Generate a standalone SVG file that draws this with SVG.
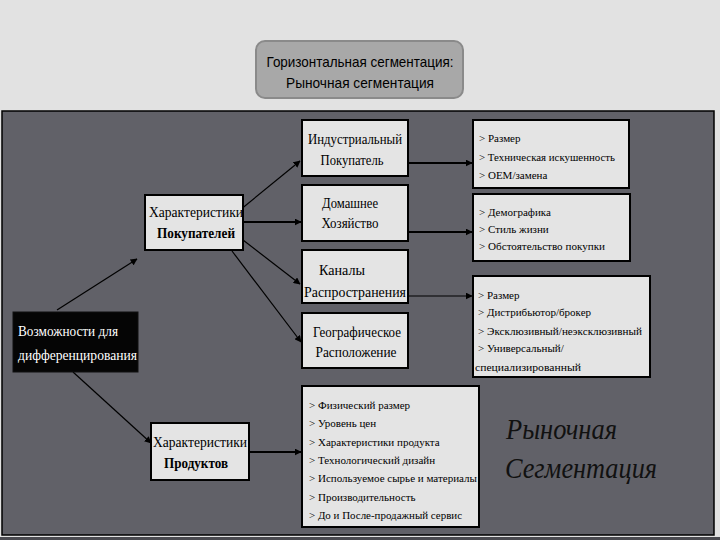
<svg xmlns="http://www.w3.org/2000/svg" width="720" height="540" viewBox="0 0 720 540">
<defs>
<marker id="ah" viewBox="0 0 10 10" refX="9" refY="5" markerWidth="7" markerHeight="7" markerUnits="userSpaceOnUse" orient="auto">
<path d="M0,0 L10,5 L0,10 Z" fill="#000"/>
</marker>
<style>
.node{fill:#e4e4e4;stroke:#000;stroke-width:2}
.nt{font-family:"Liberation Serif","DejaVu Serif",serif;font-size:15px;fill:#000;text-anchor:middle}
.b{font-weight:bold}
.lt{font-family:"Liberation Serif","DejaVu Serif",serif;font-size:11px;fill:#000}
.c{fill:none;stroke:#000;stroke-width:1.2;marker-end:url(#ah)}
.ch{fill:none;stroke:#000;stroke-width:2;marker-end:url(#ah)}
</style>
</defs>
<rect x="0" y="0" width="720" height="540" fill="#e2e2e2"/>
<rect x="2" y="111" width="712" height="424" fill="#616168" stroke="#000" stroke-width="1.5"/>
<rect x="0" y="537" width="720" height="3" fill="#4a4a50"/>

<g id="title">
<rect x="256" y="41" width="207" height="57" rx="9" fill="#a8a8a8" stroke="#8a8a8a" stroke-width="2"/>
<text x="360" y="67" font-family="'Liberation Sans',Arial,sans-serif" font-size="15" text-anchor="middle" textLength="187" lengthAdjust="spacingAndGlyphs">Горизонтальная сегментация:</text>
<text x="360" y="88" font-family="'Liberation Sans',Arial,sans-serif" font-size="15" text-anchor="middle" textLength="148" lengthAdjust="spacingAndGlyphs">Рыночная сегментация</text>
</g>

<g id="connectors">
<line class="c" x1="57" y1="310" x2="137" y2="259"/>
<line class="c" x1="73" y1="372" x2="151" y2="443"/>
<line class="c" x1="240" y1="210" x2="300" y2="161"/>
<line class="ch" x1="243" y1="222" x2="301" y2="222"/>
<line class="c" x1="243" y1="240" x2="300" y2="284"/>
<line class="c" x1="232" y1="251" x2="301" y2="342"/>
<line class="ch" x1="408" y1="163" x2="472" y2="163"/>
<line class="ch" x1="408" y1="232" x2="472" y2="232"/>
<line class="c" x1="408" y1="296" x2="472" y2="296"/>
<line class="ch" x1="249" y1="452" x2="301" y2="452"/>
</g>

<g id="opportunities">
<rect x="13" y="312" width="125" height="60" fill="#050505" stroke="#111" stroke-width="1"/>
<text x="18" y="336" font-family="'Liberation Serif','DejaVu Serif',serif" font-size="15" fill="#fff" textLength="100" lengthAdjust="spacingAndGlyphs">Возможности для</text>
<text x="18" y="360" font-family="'Liberation Serif','DejaVu Serif',serif" font-size="15" fill="#fff" textLength="119" lengthAdjust="spacingAndGlyphs">дифференцирования</text>
</g>

<g id="buyers">
<rect class="node" x="145" y="195" width="98" height="55"/>
<text class="nt" x="196" y="217" textLength="94" lengthAdjust="spacingAndGlyphs">Характеристики</text>
<text class="nt b" x="196" y="238" textLength="78" lengthAdjust="spacingAndGlyphs">Покупателей</text>
</g>

<g id="products">
<rect class="node" x="151" y="423" width="98" height="57"/>
<text class="nt" x="200" y="447" textLength="94" lengthAdjust="spacingAndGlyphs">Характеристики</text>
<text class="nt b" x="196" y="468" textLength="64" lengthAdjust="spacingAndGlyphs">Продуктов</text>
</g>

<g id="industrial">
<rect class="node" x="302" y="120" width="106" height="56"/>
<text class="nt" x="355" y="144" textLength="94" lengthAdjust="spacingAndGlyphs">Индустриальный</text>
<text class="nt" x="352" y="165" textLength="63" lengthAdjust="spacingAndGlyphs">Покупатель</text>
</g>

<g id="household">
<rect class="node" x="302" y="185" width="106" height="56"/>
<text class="nt" x="350" y="208" textLength="56" lengthAdjust="spacingAndGlyphs">Домашнее</text>
<text class="nt" x="350" y="228" textLength="57" lengthAdjust="spacingAndGlyphs">Хозяйство</text>
</g>

<g id="channels">
<rect class="node" x="302" y="250" width="106" height="53"/>
<text class="nt" x="342" y="275" textLength="46" lengthAdjust="spacingAndGlyphs">Каналы</text>
<text class="nt" x="355" y="297" textLength="102" lengthAdjust="spacingAndGlyphs">Распространения</text>
</g>

<g id="geo">
<rect class="node" x="302" y="313" width="106" height="55"/>
<text class="nt" x="357" y="337" textLength="88" lengthAdjust="spacingAndGlyphs">Географическое</text>
<text class="nt" x="356" y="357" textLength="81" lengthAdjust="spacingAndGlyphs">Расположение</text>
</g>

<g id="list-industrial">
<rect class="node" x="473" y="120" width="156" height="68"/>
<text class="lt" x="479" y="142">&gt; Размер</text>
<text class="lt" x="479" y="161" textLength="136" lengthAdjust="spacingAndGlyphs">&gt; Техническая искушенность</text>
<text class="lt" x="479" y="179">&gt; OEM/замена</text>
</g>

<g id="list-household">
<rect class="node" x="473" y="194" width="157" height="67"/>
<text class="lt" x="479" y="216">&gt; Демографика</text>
<text class="lt" x="479" y="233">&gt; Стиль жизни</text>
<text class="lt" x="479" y="250" textLength="126" lengthAdjust="spacingAndGlyphs">&gt; Обстоятельство покупки</text>
</g>

<g id="list-channels">
<rect class="node" x="473" y="276" width="177" height="101"/>
<text class="lt" x="478" y="299">&gt; Размер</text>
<text class="lt" x="478" y="316">&gt; Дистрибьютор/брокер</text>
<text class="lt" x="478" y="335" textLength="164" lengthAdjust="spacingAndGlyphs">&gt; Эксклюзивный/неэксклюзивный</text>
<text class="lt" x="478" y="352">&gt; Универсальный/</text>
<text class="lt" x="475" y="371" textLength="106" lengthAdjust="spacingAndGlyphs">специализированный</text>
</g>

<g id="list-products">
<rect class="node" x="302" y="386" width="177" height="141"/>
<text class="lt" x="309" y="409">&gt; Физический размер</text>
<text class="lt" x="309" y="427">&gt; Уровень цен</text>
<text class="lt" x="309" y="446">&gt; Характеристики продукта</text>
<text class="lt" x="309" y="464">&gt; Технологический дизайн</text>
<text class="lt" x="309" y="482" textLength="168" lengthAdjust="spacingAndGlyphs">&gt; Используемое сырье и материалы</text>
<text class="lt" x="309" y="501">&gt; Производительность</text>
<text class="lt" x="309" y="519" textLength="153" lengthAdjust="spacingAndGlyphs">&gt; До и После-продажный сервис</text>
</g>

<g id="caption">
<text x="506" y="439" font-family="'Liberation Serif','DejaVu Serif',serif" font-style="italic" font-size="30" fill="#111" textLength="111" lengthAdjust="spacingAndGlyphs">Рыночная</text>
<text x="505" y="478" font-family="'Liberation Serif','DejaVu Serif',serif" font-style="italic" font-size="30" fill="#111" textLength="152" lengthAdjust="spacingAndGlyphs">Сегментация</text>
</g>
</svg>
